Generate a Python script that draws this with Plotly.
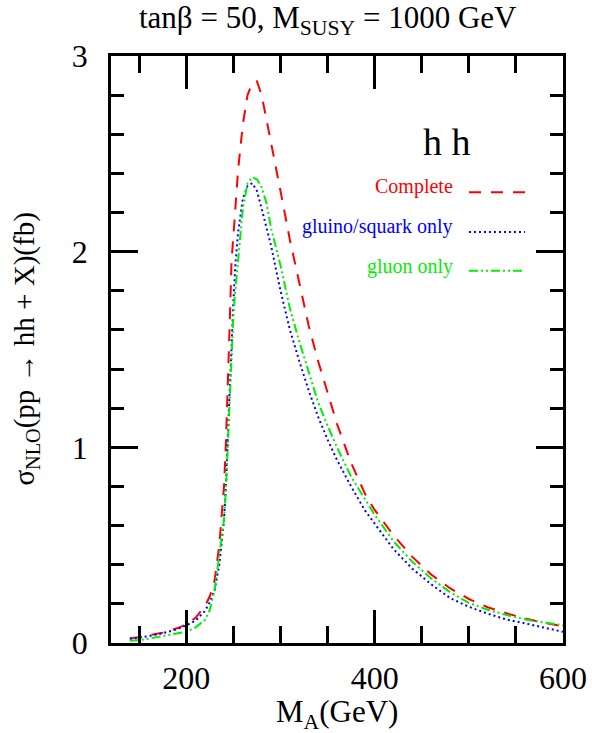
import plotly.graph_objects as go

# M_A grid (GeV)
m_a = [140, 150, 160, 175, 190, 200, 210, 220, 225, 230, 235, 240, 242, 244, 246,
       248, 250, 252, 255, 260, 265, 270, 275, 280, 285, 290, 300, 310, 320, 330,
       340, 350, 360, 375, 390, 400, 420, 440, 460, 480, 500, 520, 540, 560, 580, 600]

# sigma_NLO (fb)
complete = [0.024, 0.030, 0.040, 0.053, 0.075, 0.095, 0.13, 0.19, 0.24, 0.32, 0.50, 0.80,
            1.02, 1.28, 1.62, 1.95, 2.10, 2.23, 2.42, 2.65, 2.80, 2.86, 2.87, 2.80, 2.68,
            2.55, 2.31, 2.06, 1.84, 1.62, 1.44, 1.28, 1.12, 0.92, 0.76, 0.68, 0.55, 0.44,
            0.35, 0.28, 0.225, 0.183, 0.152, 0.125, 0.103, 0.085]
gluino_squark = [0.020, 0.027, 0.035, 0.050, 0.070, 0.090, 0.115, 0.165, 0.21, 0.27, 0.40,
                 0.63, 0.80, 1.05, 1.30, 1.55, 1.75, 1.93, 2.10, 2.27, 2.335, 2.35, 2.31,
                 2.22, 2.13, 2.03, 1.80, 1.60, 1.44, 1.29, 1.155, 1.04, 0.935, 0.80, 0.675,
                 0.61, 0.48, 0.38, 0.30, 0.23, 0.185, 0.15, 0.12, 0.10, 0.078, 0.057]
gluon = [0.012, 0.015, 0.022, 0.035, 0.048, 0.058, 0.08, 0.12, 0.17, 0.27, 0.45, 0.63,
         0.78, 1.00, 1.25, 1.50, 1.68, 1.80, 1.97, 2.22, 2.35, 2.38, 2.37, 2.33, 2.25,
         2.12, 1.93, 1.71, 1.54, 1.38, 1.23, 1.11, 1.00, 0.85, 0.73, 0.655, 0.52, 0.415,
         0.33, 0.26, 0.205, 0.17, 0.143, 0.12, 0.105, 0.09]

x_ticks = [200, 400, 600]
y_ticks = [0, 1, 2, 3]

series = [
    ("Complete", complete, "#ff0000", "12px,10px"),
    ("gluino/squark only", gluino_squark, "#0000ff", "2px,3px"),
    ("gluon only", gluon, "#00ee00", "9px,3px,2px,3px,2px,3px"),
]

FONT = "Liberation Serif"

fig = go.Figure()
for name, vals, col, dash in series:
    fig.add_trace(go.Scatter(x=m_a, y=vals, mode="lines", name=name,
                             line=dict(color=col, width=2, dash=dash),
                             showlegend=False))

# legend (text + sample line), placed in paper coordinates
leg_y_text = [0.777, 0.709, 0.641]
leg_y_line = [0.768, 0.700, 0.634]
for (name, vals, col, dash), yt, yl in zip(series, leg_y_text, leg_y_line):
    fig.add_annotation(x=0.761, y=yt, xref="paper", yref="paper", text=name,
                       showarrow=False, xanchor="right", yanchor="middle",
                       font=dict(family=FONT, size=20, color=col))
    fig.add_shape(type="line", xref="paper", yref="paper", x0=0.792, x1=0.916,
                  y0=yl, y1=yl, line=dict(color=col, width=2, dash=dash))

fig.add_annotation(x=0.743, y=0.853, xref="paper", yref="paper", text="h h",
                   showarrow=False, xanchor="center", yanchor="middle",
                   font=dict(family=FONT, size=38, color="black"))

fig.add_annotation(x=-0.19, y=0.50, xref="paper", yref="paper",
                   text="σ<sub>NLO</sub>(pp → hh + X)(fb)", textangle=-90,
                   showarrow=False, xanchor="center", yanchor="middle",
                   font=dict(family=FONT, size=29, color="black"))

fig.add_annotation(x=0.5, y=-0.121, xref="paper", yref="paper",
                   text="M<sub>A</sub>(GeV)",
                   showarrow=False, xanchor="center", yanchor="middle",
                   font=dict(family=FONT, size=31, color="black"))

fig.add_annotation(x=0.48, y=1.062, xref="paper", yref="paper",
                   text="tanβ = 50, M<sub>SUSY</sub> = 1000 GeV",
                   showarrow=False, xanchor="center", yanchor="middle",
                   font=dict(family=FONT, size=31, color="black"))

fig.update_layout(
    width=592, height=733,
    margin=dict(l=111, r=29, t=56, b=90),
    paper_bgcolor="white", plot_bgcolor="white",
    font=dict(family=FONT, size=32, color="black"),
)
fig.update_xaxes(range=[120, 600], tickvals=x_ticks, ticktext=[str(v) for v in x_ticks],
                 ticks="inside", ticklen=33, tickwidth=2.5, tickcolor="black",
                 showline=True, linewidth=2.5, linecolor="black", mirror="ticks",
                 showgrid=False, zeroline=False, ticklabelstandoff=5, automargin=False,
                 minor=dict(dtick=50, tick0=0, ticks="inside", ticklen=17,
                            tickwidth=2.5, tickcolor="black", showgrid=False))
fig.update_yaxes(range=[0, 3], tickvals=y_ticks, ticktext=[str(v) for v in y_ticks],
                 ticks="inside", ticklen=27, tickwidth=2.5, tickcolor="black",
                 showline=True, linewidth=2.5, linecolor="black", mirror="ticks",
                 showgrid=False, zeroline=False, ticklabelstandoff=14, automargin=False,
                 minor=dict(dtick=0.2, tick0=0, ticks="inside", ticklen=13,
                            tickwidth=2.5, tickcolor="black", showgrid=False))

fig.write_html("out.html", config={"displayModeBar": False},
               post_script="document.body.style.margin='0';document.body.style.overflow='hidden';")
